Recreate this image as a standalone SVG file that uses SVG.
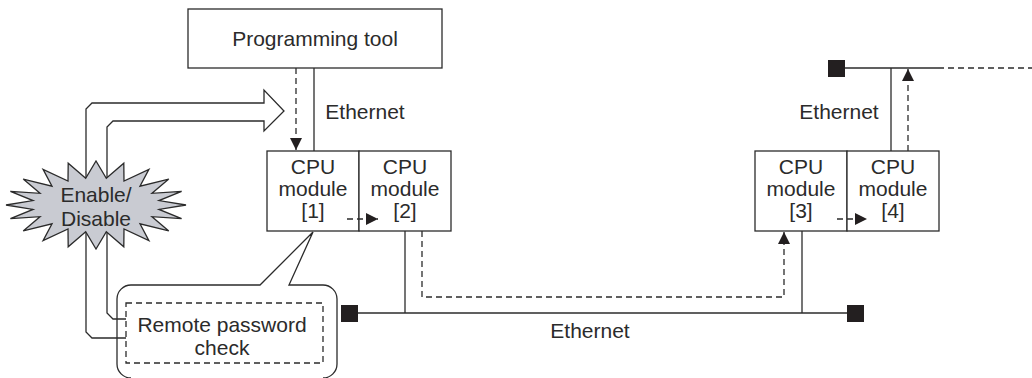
<svg xmlns="http://www.w3.org/2000/svg" width="1032" height="378" viewBox="0 0 1032 378">
<defs>
<style>
.ln{fill:none;stroke:#2b2b2b;stroke-width:1.3}
.ds{fill:none;stroke:#2b2b2b;stroke-width:1.3;stroke-dasharray:6 4}
.bx{fill:#fff;stroke:#2b2b2b;stroke-width:1.3}
.t{font-family:"Liberation Sans",Arial,sans-serif;font-size:21px;fill:#2b2b2b;text-anchor:middle}
.sq{fill:#231f20}
</style>
<marker id="ah" viewBox="0 0 10 10" refX="10" refY="5" markerWidth="12" markerHeight="12" markerUnits="userSpaceOnUse" orient="auto">
<path d="M0,0 L10,5 L0,10 Z" fill="#231f20"/>
</marker>
</defs>

<g id="callout">
<path class="bx" d="M131,378 A14,14 0 0 1 117,364 V299 A14,14 0 0 1 131,285 H260 L313,232 L289,285 H323 A14,14 0 0 1 337,299 V364 A14,14 0 0 1 323,378"/>
<rect class="ds" x="126" y="303" width="197" height="60"/>
<text class="t" x="222" y="332">Remote password</text>
<text class="t" x="222" y="355">check</text>
</g>

<g id="enable-arrow">
<path class="ln" d="M126,338 H92 L86,332 V109 L92,103 H264 V90 L284,111 L264,131 V121 H113 L107,127 V313 L113,319 H126"/>
</g>

<g id="enable-disable">
<polygon fill="#c9cbd2" stroke="#2b2b2b" stroke-width="1.3" points="186,205 159,209.4 181.6,218.6 152,216.7 168.8,230.9 140,223.8 148.9,240.6 124,228.9 123.8,246.8 106.3,231.7 96,249 85.7,231.7 68.2,246.8 68,228.9 43.1,240.6 52,223.8 23.2,230.9 40,216.7 10.4,218.6 33,209.4 6,205 33,200.6 10.4,191.4 40,193.3 23.2,179.1 52,186.2 43.1,169.4 68,181.1 68.2,163.2 85.7,178.3 96,161 106.3,178.3 123.8,163.2 124,181.1 148.9,169.4 140,186.2 168.8,179.1 152,193.3 181.6,191.4 159,200.6"/>
<text class="t" x="96" y="202">Enable/</text>
<text class="t" x="96" y="226">Disable</text>
</g>

<g id="programming-tool">
<rect class="bx" x="188" y="9" width="254" height="59"/>
<text class="t" x="315" y="46">Programming tool</text>
</g>

<g id="cpu1">
<rect class="bx" x="267" y="151" width="92" height="80"/>
<text class="t" x="313" y="174">CPU</text>
<text class="t" x="313" y="196">module</text>
<text class="t" x="313" y="218">[1]</text>
</g>
<g id="cpu2">
<rect class="bx" x="359" y="151" width="92" height="80"/>
<text class="t" x="405" y="174">CPU</text>
<text class="t" x="405" y="196">module</text>
<text class="t" x="405" y="218">[2]</text>
</g>
<g id="cpu3">
<rect class="bx" x="755" y="151" width="92" height="80"/>
<text class="t" x="801" y="174">CPU</text>
<text class="t" x="801" y="196">module</text>
<text class="t" x="801" y="218">[3]</text>
</g>
<g id="cpu4">
<rect class="bx" x="847" y="151" width="92" height="80"/>
<text class="t" x="893" y="174">CPU</text>
<text class="t" x="893" y="196">module</text>
<text class="t" x="893" y="218">[4]</text>
</g>

<g id="connectors">
<line class="ln" x1="314" y1="68" x2="314" y2="151"/>
<line class="ds" x1="296" y1="68" x2="296" y2="150" marker-end="url(#ah)"/>
<line class="ds" x1="347" y1="219" x2="378" y2="219" marker-end="url(#ah)"/>
<line class="ln" x1="405" y1="231" x2="405" y2="313"/>
<line class="ln" x1="802" y1="231" x2="802" y2="313"/>
<line class="ln" x1="358" y1="313" x2="847" y2="313"/>
<rect class="sq" x="341" y="305" width="17" height="17"/>
<rect class="sq" x="847" y="305" width="17" height="17"/>
<polyline class="ds" points="422,231 422,297 784,297 784,232" marker-end="url(#ah)"/>
<line class="ds" x1="837" y1="219" x2="867" y2="219" marker-end="url(#ah)"/>
<line class="ln" x1="891" y1="68" x2="891" y2="151"/>
<line class="ds" x1="908" y1="151" x2="908" y2="69" marker-end="url(#ah)"/>
<line class="ln" x1="845" y1="68" x2="938" y2="68"/>
<line class="ds" x1="938" y1="68" x2="1032" y2="68"/>
<rect class="sq" x="828" y="60" width="17" height="17"/>
<text class="t" x="365" y="119">Ethernet</text>
<text class="t" x="839" y="119">Ethernet</text>
<text class="t" x="590" y="338">Ethernet</text>
</g>
</svg>
